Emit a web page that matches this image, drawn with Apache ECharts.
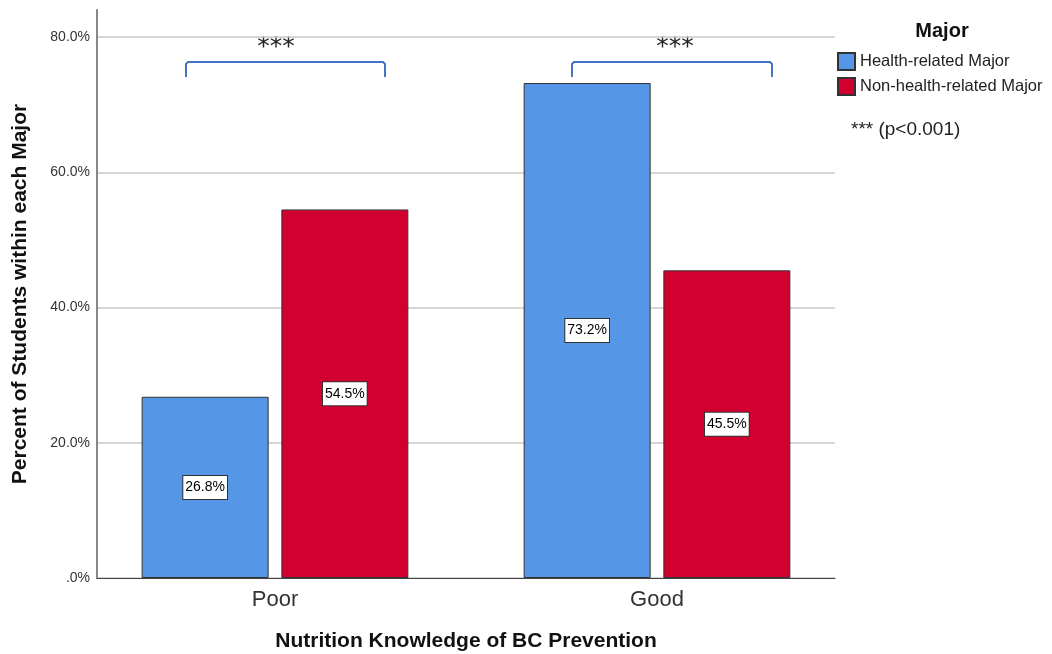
<!DOCTYPE html>
<html>
<head>
<meta charset="utf-8">
<script src="https://cdn.jsdelivr.net/npm/echarts@6/dist/echarts.min.js"></script>
<style>
  html, body { margin: 0; padding: 0; background: #fff; }
  #chart { width: 1052px; height: 654px; }
</style>
</head>
<body>
<div id="chart"></div>
<script>
// data
const categories = ['Poor', 'Good'];
const healthRelated = [26.8, 73.2];
const nonHealthRelated = [54.5, 45.5];
const yTicks = [0, 20, 40, 60, 80];

const font = '"Liberation Sans", Arial, sans-serif';
const chart = echarts.init(document.getElementById('chart'));

const barLabel = {
  show: true,
  position: 'inside',
  formatter: (p) => p.value.toFixed(1) + '%',
  color: '#000',
  fontFamily: font,
  fontSize: 14,
  backgroundColor: '#fff',
  borderColor: '#333',
  borderWidth: 1,
  padding: [5, 2, 4, 2]
};

// bracket annotation (pixel positions)
function bracket(x1, x2, yTop, yBot) {
  return {
    type: 'polyline',
    shape: { points: [[x1, yBot], [x1, yTop + 2], [x1 + 2, yTop], [x2 - 2, yTop], [x2, yTop + 2], [x2, yBot]] },
    style: { stroke: '#4472C4', lineWidth: 2, fill: null }
  };
}
function stars(x, y) {
  return {
    type: 'text', x: x, y: y,
    style: { text: '***', font: '25px "DejaVu Sans", sans-serif', fill: '#222', align: 'center', verticalAlign: 'middle' }
  };
}

chart.setOption({
  animation: false,
  backgroundColor: '#fff',
  grid: [
    { left: 97, right: 217, top: 10, bottom: 76, outerBoundsMode: 'none' },
    { left: 84, right: 204, top: 10, bottom: 76, outerBoundsMode: 'none' }
  ],
  legend: {
    orient: 'vertical',
    left: 837,
    top: 52,
    padding: 0,
    itemWidth: 17,
    itemHeight: 17,
    itemGap: 6,
    icon: 'rect',
    textStyle: { fontFamily: font, fontSize: 16.5, color: '#222' },
    data: ['Health-related Major', 'Non-health-related Major']
  },
  xAxis: [
    {
      type: 'category',
      gridIndex: 0,
      data: categories,
      name: 'Nutrition Knowledge of BC Prevention',
      nameLocation: 'middle',
      nameGap: 53,
      nameTextStyle: { fontFamily: font, fontSize: 21, fontWeight: 'bold', color: '#111' },
      axisLine: { lineStyle: { color: '#444', width: 1 } },
      axisTick: { show: false },
      axisLabel: { show: false }
    },
    {
      type: 'category',
      gridIndex: 1,
      data: categories,
      axisLine: { show: false },
      axisTick: { show: false },
      axisLabel: { fontFamily: font, fontSize: 22, color: '#333', margin: 11 }
    }
  ],
  yAxis: [
    {
      type: 'value',
      gridIndex: 0,
      min: 0,
      max: 84,
      interval: 20,
      name: 'Percent of Students within each Major',
      nameLocation: 'middle',
      nameGap: 66,
      nameTextStyle: { fontFamily: font, fontSize: 21, fontWeight: 'bold', color: '#111' },
      axisLine: { show: true, lineStyle: { color: '#888', width: 2 } },
      axisTick: { show: false },
      axisLabel: {
        fontFamily: font, fontSize: 14, color: '#333', margin: 7, padding: [10, 0, 0, 0],
        formatter: (v) => yTicks.includes(v) ? (v === 0 ? '.0%' : v.toFixed(1) + '%') : ''
      },
      splitLine: { show: true, lineStyle: { color: ['#c8c8c8', '#c8c8c8', '#c8c8c8', '#c8c8c8', '#c8c8c8', 'rgba(0,0,0,0)'], width: 1.5 } }
    },
    {
      type: 'value',
      gridIndex: 1,
      min: 0,
      max: 84,
      show: false
    }
  ],
  series: [
    {
      name: 'Health-related Major',
      type: 'bar',
      xAxisIndex: 1,
      yAxisIndex: 1,
      data: healthRelated,
      barWidth: 127,
      barGap: '10%',
      itemStyle: { color: '#5596E6', borderColor: '#333', borderWidth: 1 },
      label: barLabel
    },
    {
      name: 'Non-health-related Major',
      type: 'bar',
      xAxisIndex: 1,
      yAxisIndex: 1,
      data: nonHealthRelated,
      barWidth: 127,
      barGap: '10%',
      itemStyle: { color: '#D2002E', borderColor: '#333', borderWidth: 1 },
      label: barLabel
    }
  ],
  graphic: [
    bracket(186, 385, 62, 77),
    bracket(572, 772, 62, 77),
    stars(276, 47),
    stars(675, 47),
    {
      type: 'text', x: 942, y: 31,
      style: { text: 'Major', font: 'bold 20px "Liberation Sans", Arial, sans-serif', fill: '#111', align: 'center', verticalAlign: 'middle' }
    },
    {
      type: 'text', x: 851, y: 130,
      style: { text: '*** (p<0.001)', font: '19px "Liberation Sans", Arial, sans-serif', fill: '#222', align: 'left', verticalAlign: 'middle' }
    }
  ]
});
</script>
</body>
</html>
